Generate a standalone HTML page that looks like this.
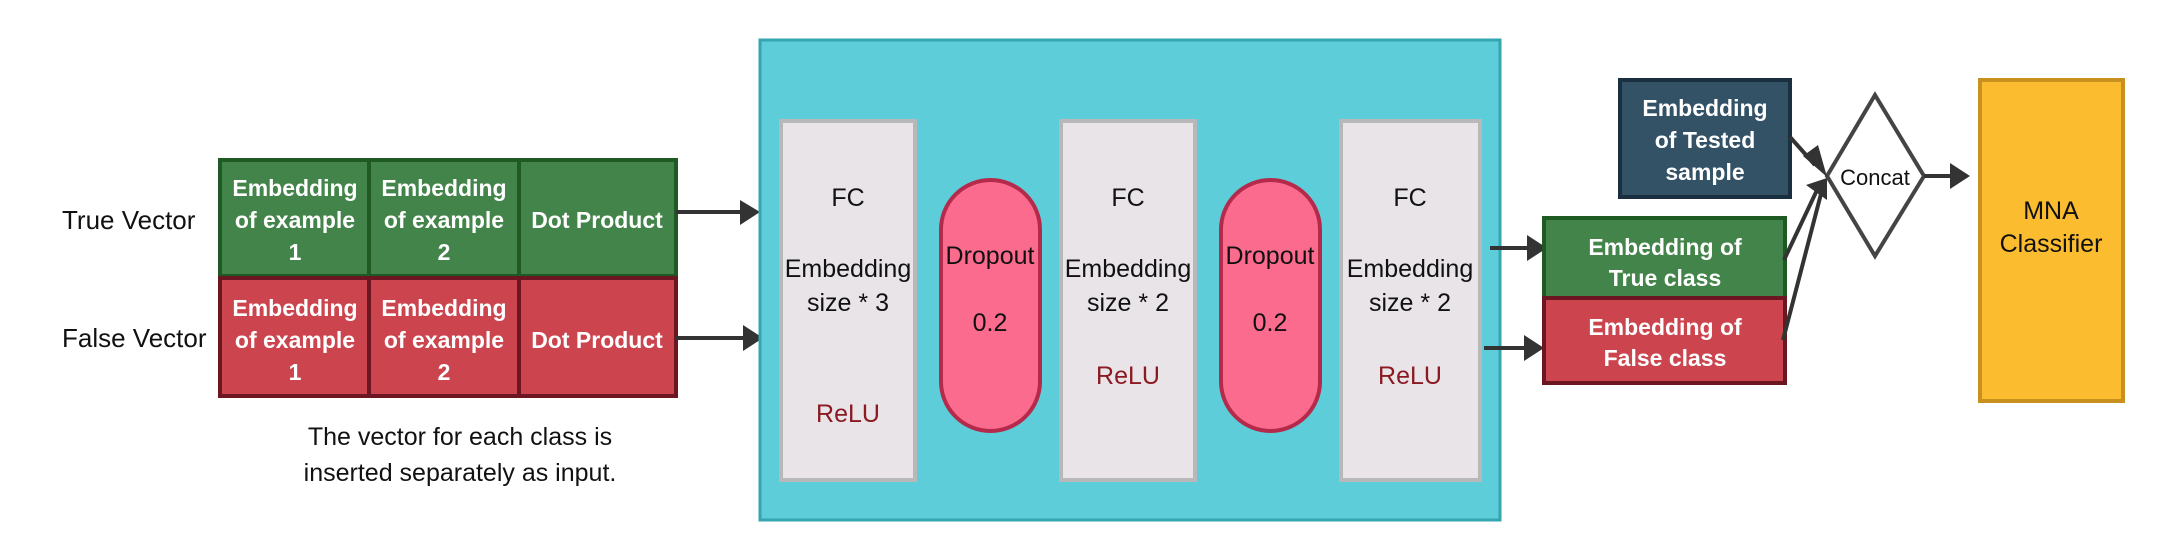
<!DOCTYPE html>
<html><head><meta charset="utf-8"><style>
html,body{margin:0;padding:0;background:#fff;}
svg{display:block;}
text{font-family:"Liberation Sans",sans-serif;}
</style></head><body>
<svg width="2162" height="560" viewBox="0 0 2162 560" xmlns="http://www.w3.org/2000/svg">
<defs>
<marker id="ah" markerWidth="10" markerHeight="10" refX="9" refY="5" orient="auto" markerUnits="userSpaceOnUse" viewBox="0 0 10 10">
</marker>
</defs>
<!-- left labels -->
<text x="62" y="229" font-size="26" fill="#111">True Vector</text>
<text x="62" y="347" font-size="26" fill="#111">False Vector</text>
<!-- green row -->
<rect x="220" y="160" width="456" height="116" fill="#43844a" stroke="#1f5a25" stroke-width="4"/>
<line x1="369" y1="160" x2="369" y2="276" stroke="#1f5a25" stroke-width="4"/>
<line x1="519" y1="160" x2="519" y2="276" stroke="#1f5a25" stroke-width="4"/>
<rect x="220" y="278" width="456" height="118" fill="#cb444e" stroke="#6b1620" stroke-width="4"/>
<line x1="369" y1="278" x2="369" y2="396" stroke="#6b1620" stroke-width="4"/>
<line x1="519" y1="278" x2="519" y2="396" stroke="#6b1620" stroke-width="4"/>
<g font-size="23" font-weight="bold" fill="#fff" text-anchor="middle">
<text x="295" y="196">Embedding</text><text x="295" y="228">of example</text><text x="295" y="260">1</text>
<text x="444" y="196">Embedding</text><text x="444" y="228">of example</text><text x="444" y="260">2</text>
<text x="597" y="228">Dot Product</text>
<text x="295" y="316">Embedding</text><text x="295" y="348">of example</text><text x="295" y="380">1</text>
<text x="444" y="316">Embedding</text><text x="444" y="348">of example</text><text x="444" y="380">2</text>
<text x="597" y="348">Dot Product</text>
</g>
<text x="460" y="445" font-size="25" fill="#111" text-anchor="middle">The vector for each class is</text>
<text x="460" y="481" font-size="25" fill="#111" text-anchor="middle">inserted separately as input.</text>
<!-- arrows into teal -->
<g stroke="#333" stroke-width="4" fill="#333">
<line x1="676" y1="212" x2="745" y2="212"/><polygon points="740,200 760,212 740,225" stroke="none"/>
<line x1="676" y1="338" x2="748" y2="338"/><polygon points="743,325 763,338 743,351" stroke="none"/>
</g>
<!-- teal -->
<rect x="760" y="40" width="740" height="480" fill="#5ccdd9" stroke="#33a6b0" stroke-width="3"/>
<g fill="#e8e4e8" stroke="#b8b8b8" stroke-width="4">
<rect x="781" y="121" width="134" height="359"/>
<rect x="1061" y="121" width="134" height="359"/>
<rect x="1341" y="121" width="139" height="359"/>
</g>
<g fill="#fb6b8e" stroke="#b52a4a" stroke-width="4">
<rect x="941" y="180" width="99" height="251" rx="49.5"/>
<rect x="1221" y="180" width="99" height="251" rx="49.5"/>
</g>
<g font-size="25" fill="#111" text-anchor="middle">
<text x="848" y="206">FC</text><text x="848" y="277">Embedding</text><text x="848" y="311">size * 3</text>
<text x="1128" y="206">FC</text><text x="1128" y="277">Embedding</text><text x="1128" y="311">size * 2</text>
<text x="1410" y="206">FC</text><text x="1410" y="277">Embedding</text><text x="1410" y="311">size * 2</text>
<text x="990" y="264">Dropout</text><text x="990" y="331">0.2</text>
<text x="1270" y="264">Dropout</text><text x="1270" y="331">0.2</text>
</g>
<g font-size="25" fill="#8b1a22" text-anchor="middle">
<text x="848" y="422">ReLU</text><text x="1128" y="384">ReLU</text><text x="1410" y="384">ReLU</text>
</g>
<!-- right -->
<g stroke="#333" stroke-width="4" fill="#333">
<line x1="1490" y1="248" x2="1530" y2="248"/><polygon points="1527,235 1547,248 1527,261" stroke="none"/>
<line x1="1484" y1="348" x2="1528" y2="348"/><polygon points="1524,335 1544,348 1524,361" stroke="none"/>
</g>
<rect x="1620" y="80" width="170" height="117" fill="#335266" stroke="#1a2f40" stroke-width="4"/>
<rect x="1544" y="218" width="241" height="80" fill="#43844a" stroke="#1f5a25" stroke-width="4"/>
<rect x="1544" y="298" width="241" height="85" fill="#cb444e" stroke="#6b1620" stroke-width="4"/>
<g font-size="23" font-weight="bold" fill="#fff" text-anchor="middle">
<text x="1705" y="116">Embedding</text><text x="1705" y="148">of Tested</text><text x="1705" y="180">sample</text>
<text x="1665" y="255">Embedding of</text><text x="1665" y="286">True class</text>
<text x="1665" y="335">Embedding of</text><text x="1665" y="366">False  class</text>
</g>
<polygon points="1875,95 1924,176 1875,256 1827,176" fill="#fff" stroke="#444" stroke-width="4"/>
<text x="1875" y="185" font-size="22" fill="#111" text-anchor="middle">Concat</text>
<g stroke="#333" stroke-width="4" fill="#333">
<line x1="1790" y1="137" x2="1815" y2="165"/>
<polygon points="1803,156 1827,177 1818,145" stroke="none"/>
<line x1="1784" y1="260" x2="1818" y2="188"/>
<line x1="1783" y1="340" x2="1822" y2="190"/>
<polygon points="1806,185 1827,178 1827,200" stroke="none"/>
<line x1="1924" y1="176" x2="1955" y2="176"/>
<polygon points="1950,163 1970,176 1950,189" stroke="none"/>
</g>
<rect x="1980" y="80" width="143" height="321" fill="#fbbc2f" stroke="#c8901e" stroke-width="4"/>
<text x="2051" y="219" font-size="25" fill="#111" text-anchor="middle">MNA</text>
<text x="2051" y="252" font-size="25" fill="#111" text-anchor="middle">Classifier</text>
</svg>
</body></html>
